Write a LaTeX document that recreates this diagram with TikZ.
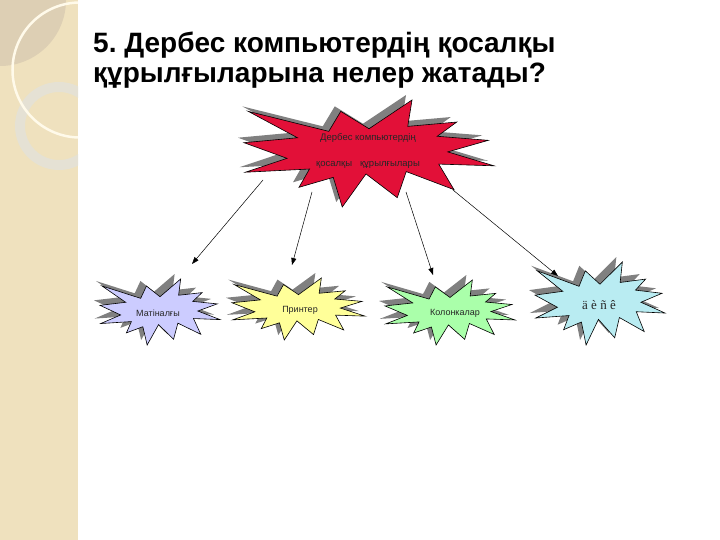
\documentclass[tikz,border=0pt]{standalone}
\usepackage{fontspec}
\setmainfont{Liberation Sans}
\newfontfamily\serifone{Liberation Serif}
\usetikzlibrary{arrows.meta}
\frenchspacing
\definecolor{sidebar}{RGB}{239,225,190}
\definecolor{sidedark}{RGB}{221,207,180}
\definecolor{sidecream}{RGB}{255,250,234}
\definecolor{sidering}{RGB}{229,225,212}
\definecolor{shadowgray}{RGB}{128,128,128}
\definecolor{sealred}{RGB}{226,16,56}
\definecolor{sealpurple}{RGB}{204,204,255}
\definecolor{sealyellow}{RGB}{255,255,153}
\definecolor{sealgreen}{RGB}{170,255,170}
\definecolor{sealcyan}{RGB}{185,236,242}
\newcommand\xseal[1]{\path[#1] (0.5,0.2685) -- (0.672,0) -- (0.655,0.2465) -- (0.851,0.206) -- (0.773,0.339) -- (0.977,0.377) -- (0.815,0.485) -- (1,0.615) -- (0.779,0.599) -- (0.840,0.838) -- (0.649,0.669) -- (0.613,0.913) -- (0.488,0.691) -- (0.393,1) -- (0.357,0.723) -- (0.220,0.816) -- (0.262,0.645) -- (0.006,0.675) -- (0.172,0.545) -- (0,0.399) -- (0.214,0.353) -- (0.017,0.106) -- (0.339,0.293) -- (0.387,0.106) -- cycle;}
\newcommand\explosion[5]{%
\begin{scope}[shift={(#1-6,#2-5)},xscale=#3,yscale=#4]\xseal{fill=shadowgray}\end{scope}
\begin{scope}[shift={(#1,#2)},xscale=#3,yscale=#4]\xseal{fill=#5,draw=black,line width=0.6pt}\end{scope}}
\tikzset{
  titletext/.style={anchor=base west,inner sep=0pt,font=\fontsize{28}{30}\selectfont\bfseries},
  seallabel/.style={inner sep=0pt,font=\fontsize{9}{11}\selectfont,text=black!85},
  arr/.style={-{Triangle[length=7pt,width=5pt]},line width=0.5pt,black}
}
\begin{document}
\begin{tikzpicture}[x=1pt,y=-1pt]
\useasboundingbox (0,0) rectangle (720,540);
\fill[white] (0,0) rectangle (720,540);
% sidebar
\begin{scope}
\clip (0,0) rectangle (78,540);
\fill[sidebar] (0,0) rectangle (78,540);
\fill[sidedark] (0,0) circle (66);
\draw[sidering,line width=10pt] (59,126) circle (39);
\draw[sidecream,line width=2.5pt] (80,70) circle (67.5);
\end{scope}
% title
\node[titletext] (t1) at (93,53) {5. Дербес компьютердің қосалқы};
\node[titletext] (t2) at (93,83) {құрылғыларына нелер жатады?};
% stars
\explosion{244}{100}{250}{107}{sealred}
\explosion{100}{279}{120}{66}{sealpurple}
\explosion{232}{278}{133}{62}{sealyellow}
\explosion{385}{280}{130}{65}{sealgreen}
\explosion{535}{262}{130}{83}{sealcyan}
% labels
\node[seallabel,font=\fontsize{9.5}{11}\selectfont] (m1) at (368,138) {Дербес компьютердің};
\node[seallabel,font=\fontsize{9.5}{11}\selectfont] (m2) at (368,165) {қосалқы\ \ \ құрылғылары};
\node[seallabel] (s1) at (158,313) {Матіналғы};
\node[seallabel] (s2) at (300,310) {Принтер};
\node[seallabel] (s3) at (455,313) {Колонкалар};
\node[seallabel,font=\fontsize{13}{15}\selectfont\serifone] (s4) at (599,305) {ä è ñ ê};
% arrows
\coordinate (a1s) at (263,180); \coordinate (a1e) at (192,264);
\coordinate (a2s) at (312,192); \coordinate (a2e) at (292,265);
\coordinate (a3s) at (406,192); \coordinate (a3e) at (433,275);
\coordinate (a4s) at (453,190); \coordinate (a4e) at (558,276);
\draw[arr] (a1s) -- (a1e);
\draw[arr] (a2s) -- (a2e);
\draw[arr] (a3s) -- (a3e);
\draw[arr] (a4s) -- (a4e);
\end{tikzpicture}
\end{document}
